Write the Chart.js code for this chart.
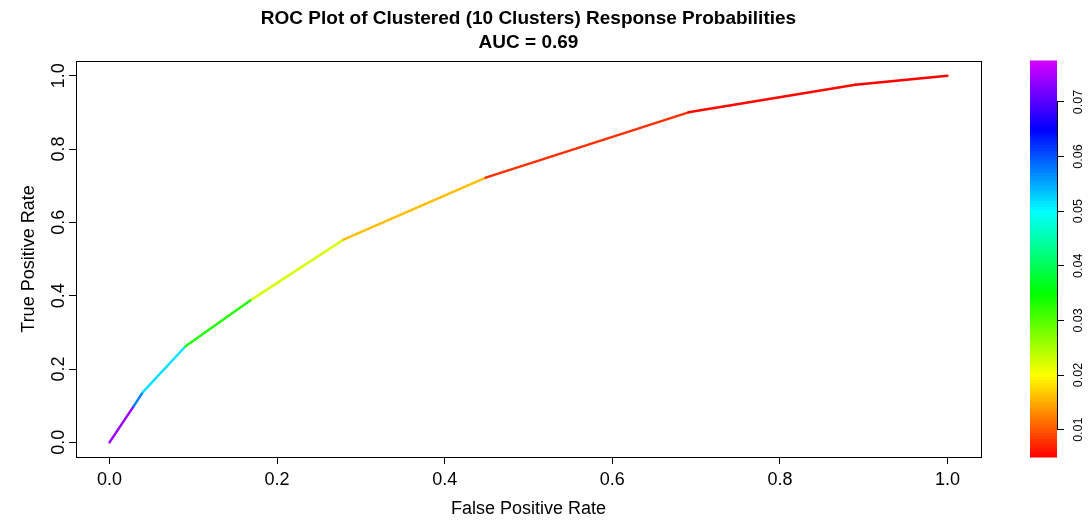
<!DOCTYPE html>
<html>
<head>
<meta charset="utf-8">
<script src="https://cdn.jsdelivr.net/npm/chart.js@4.4.1/dist/chart.umd.min.js"></script>
<style>
    html, body { margin: 0; padding: 0; background: #fff; }
    #wrap { position: relative; width: 1089px; height: 523px; }
    #roc { position: absolute; left: 0; top: 0; }
    #key { position: absolute; left: 1000px; top: 0; }
</style>
</head>
<body>
<div id="wrap">
    <canvas id="roc" width="1000" height="523"></canvas>
    <canvas id="key" width="89" height="523"></canvas>
</div>
<script>
// ROC points (false positive rate, true positive rate)
const fpr = [0, 0.0287, 0.0398, 0.0908, 0.170, 0.2786, 0.449, 0.691, 0.890, 1.0];
const tpr = [0, 0.098, 0.137, 0.262, 0.390, 0.552, 0.722, 0.900, 0.975, 1.0];
// cutoff for each segment between consecutive points
const segCutoff = [0.074, 0.0575, 0.0517, 0.033, 0.0225, 0.0162, 0.0078, 0.0055, 0.005];

const rateTicks = [0, 0.2, 0.4, 0.6, 0.8, 1.0];
const keyTicks = [0.01, 0.02, 0.03, 0.04, 0.05, 0.06, 0.07];
const keyRange = [0.005, 0.0775];

const FONT = "'Liberation Sans', Arial, Helvetica, sans-serif";

// red (low cutoff) -> violet (high cutoff)
function cutoffColor(c) {
    const t = Math.min(1, Math.max(0, (c - keyRange[0]) / (keyRange[1] - keyRange[0])));
    return `hsl(${(290 * t).toFixed(1)}, 100%, 50%)`;
}

const boxPlugin = {
    id: 'box',
    afterDraw(chart) {
        const { ctx, chartArea: a } = chart;
        ctx.save();
        ctx.strokeStyle = '#000';
        ctx.lineWidth = 1;
        ctx.strokeRect(a.left + 0.5, a.top + 0.5, a.right - a.left, a.bottom - a.top);
        ctx.restore();
    },
};

new Chart(document.getElementById('roc'), {
    type: 'line',
    data: {
        datasets: [{
            data: fpr.map((x, i) => ({ x, y: tpr[i] })),
            borderWidth: 2.5,
            pointRadius: 0,
            tension: 0,
            borderCapStyle: 'round',
            segment: {
                borderColor: (ctx) => cutoffColor(segCutoff[ctx.p0DataIndex]),
            },
        }],
    },
    options: {
        responsive: false,
        animation: false,
        layout: { padding: { left: 0, right: 19, top: 0, bottom: 0 } },
        plugins: {
            legend: { display: false },
            tooltip: { enabled: false },
            title: {
                display: true,
                fullSize: false,
                text: ['ROC Plot of Clustered (10 Clusters) Response Probabilities', 'AUC = 0.69'],
                color: '#000',
                font: { family: FONT, size: 19, weight: 'bold', lineHeight: 1.25 },
                padding: { top: 7, bottom: 6.5 },
            },
        },
        scales: {
            x: {
                type: 'linear',
                min: -0.04,
                max: 1.04,
                afterBuildTicks: (scale) => { scale.ticks = rateTicks.map((value) => ({ value })); },
                afterFit: (scale) => { scale.height = 66; },
                ticks: {
                    color: '#000',
                    font: { family: FONT, size: 18 },
                    padding: 5,
                    callback: (v) => v.toFixed(1),
                },
                grid: { drawOnChartArea: false, tickLength: 7, color: '#000' },
                border: { display: false },
                title: {
                    display: true,
                    text: 'False Positive Rate',
                    color: '#000',
                    font: { family: FONT, size: 18 },
                    padding: { top: 0, bottom: 3 },
                },
            },
            y: {
                type: 'linear',
                min: -0.04,
                max: 1.04,
                afterBuildTicks: (scale) => { scale.ticks = rateTicks.map((value) => ({ value })); },
                afterFit: (scale) => { scale.width = 76; },
                ticks: {
                    color: '#000',
                    font: { family: FONT, size: 18 },
                    padding: -3,
                    minRotation: 90,
                    maxRotation: 90,
                    crossAlign: 'center',
                    callback: (v) => v.toFixed(1),
                },
                grid: { drawOnChartArea: false, tickLength: 7, color: '#000' },
                border: { display: false },
                title: {
                    display: true,
                    text: 'True Positive Rate',
                    color: '#000',
                    font: { family: FONT, size: 18 },
                    padding: { top: 18, bottom: 0 },
                },
            },
        },
    },
    plugins: [boxPlugin],
});

// colour key: stripes along the cutoff scale plus its axis line
const stripesPlugin = {
    id: 'stripes',
    beforeDraw(chart) {
        const { ctx, chartArea: a } = chart;
        const y = chart.scales.y;
        const n = 128;
        const step = (keyRange[1] - keyRange[0]) / n;
        ctx.save();
        for (let i = 0; i < n; i++) {
            const lo = keyRange[0] + i * step;
            const top = y.getPixelForValue(lo + step);
            const bottom = y.getPixelForValue(lo);
            ctx.fillStyle = cutoffColor(lo + step / 2);
            ctx.fillRect(a.left, top - 0.5, a.right - a.left, bottom - top + 1);
        }
        ctx.strokeStyle = '#000';
        ctx.lineWidth = 1;
        ctx.beginPath();
        ctx.moveTo(a.right + 0.5, y.getPixelForValue(keyTicks[0]));
        ctx.lineTo(a.right + 0.5, y.getPixelForValue(keyTicks[keyTicks.length - 1]));
        ctx.stroke();
        ctx.restore();
    },
};

new Chart(document.getElementById('key'), {
    type: 'scatter',
    data: { datasets: [] },
    options: {
        responsive: false,
        animation: false,
        layout: { padding: { left: 30, right: 0, top: 61, bottom: 66 } },
        plugins: { legend: { display: false }, tooltip: { enabled: false } },
        scales: {
            x: { display: false, min: 0, max: 1 },
            y: {
                type: 'linear',
                position: 'right',
                min: keyRange[0],
                max: keyRange[1],
                afterBuildTicks: (scale) => { scale.ticks = keyTicks.map((value) => ({ value })); },
                afterFit: (scale) => { scale.width = 32; },
                ticks: {
                    color: '#000',
                    font: { family: FONT, size: 12.5 },
                    padding: 2,
                    minRotation: 90,
                    maxRotation: 90,
                    crossAlign: 'center',
                    callback: (v) => v.toFixed(2),
                },
                grid: { drawOnChartArea: false, tickLength: 7, color: '#000' },
                border: { display: false },
            },
        },
    },
    plugins: [stripesPlugin],
});
</script>
</body>
</html>
